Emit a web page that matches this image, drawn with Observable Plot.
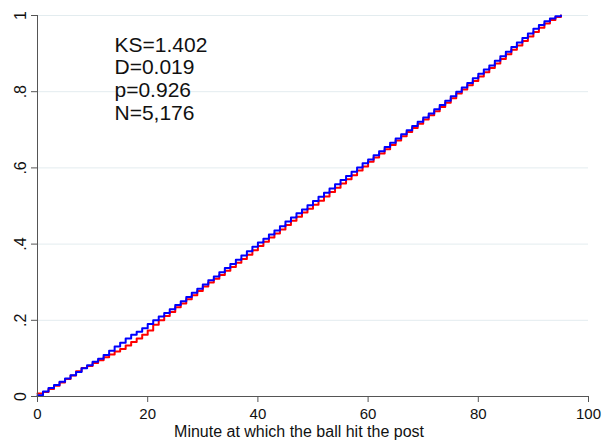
<!DOCTYPE html>
<html><head><meta charset="utf-8">
<script src="https://cdn.jsdelivr.net/npm/d3@7"></script>
<script src="https://cdn.jsdelivr.net/npm/@observablehq/plot@0.6"></script>
<style>body{margin:0;background:#fff} svg{display:block}</style>
</head><body><div id="chart"></div>
<script>
const minutes = [0,1,2,3,4,5,6,7,8,9,10,11,12,13,14,15,16,17,18,19,20,21,22,23,24,25,26,27,28,29,30,31,32,33,34,35,36,37,38,39,40,41,42,43,44,45,46,47,48,49,50,51,52,53,54,55,56,57,58,59,60,61,62,63,64,65,66,67,68,69,70,71,72,73,74,75,76,77,78,79,80,81,82,83,84,85,86,87,88,89,90,91,92,93,94,95];
const blueCdf = [0.003,0.013,0.022,0.030,0.039,0.047,0.056,0.064,0.074,0.082,0.091,0.099,0.109,0.120,0.131,0.141,0.152,0.162,0.170,0.179,0.190,0.200,0.210,0.219,0.229,0.240,0.250,0.261,0.272,0.283,0.294,0.305,0.315,0.326,0.337,0.348,0.359,0.370,0.381,0.393,0.404,0.414,0.425,0.436,0.447,0.459,0.470,0.481,0.491,0.502,0.513,0.524,0.535,0.546,0.557,0.568,0.579,0.590,0.601,0.612,0.622,0.633,0.644,0.655,0.666,0.677,0.688,0.699,0.710,0.721,0.732,0.743,0.754,0.765,0.776,0.788,0.800,0.811,0.823,0.835,0.847,0.858,0.869,0.881,0.893,0.905,0.917,0.929,0.941,0.953,0.965,0.975,0.985,0.992,0.998,1.000];
const redCdf = [0.008,0.012,0.020,0.028,0.037,0.046,0.055,0.066,0.075,0.080,0.088,0.095,0.103,0.110,0.118,0.125,0.134,0.143,0.152,0.162,0.173,0.188,0.200,0.211,0.222,0.234,0.244,0.255,0.266,0.277,0.289,0.299,0.309,0.319,0.330,0.340,0.351,0.361,0.372,0.384,0.395,0.406,0.417,0.428,0.438,0.450,0.461,0.472,0.483,0.493,0.503,0.514,0.525,0.537,0.548,0.559,0.570,0.581,0.593,0.604,0.616,0.627,0.638,0.649,0.660,0.672,0.683,0.694,0.705,0.716,0.727,0.738,0.749,0.760,0.771,0.783,0.795,0.806,0.817,0.828,0.840,0.851,0.862,0.874,0.886,0.898,0.910,0.921,0.933,0.945,0.957,0.968,0.979,0.988,0.996,1.000];
const xTicks = [0,20,40,60,80,100];
const yTicks = [0,0.2,0.4,0.6,0.8,1];
const yTickLabels = ["0",".2",".4",".6",".8","1"];
const xLabel = "Minute at which the ball hit the post";
const stats = ["KS=1.402","D=0.019","p=0.926","N=5,176"];

const red = minutes.map((m,i)=>({minute:m, cdf:redCdf[i]}));
const blue = minutes.map((m,i)=>({minute:m, cdf:blueCdf[i]}));

const chart = Plot.plot({
  width: 605, height: 443,
  marginLeft: 37, marginRight: 17, marginTop: 15, marginBottom: 47,
  x: {domain: [0, 100]},
  y: {domain: [0, 1]},
  style: {fontFamily: "'Liberation Sans', Arial, sans-serif", background: "white", color: "#111"},
  marks: [
    Plot.gridY(yTicks.slice(1), {stroke: "#e3ecef", strokeOpacity: 1}),
    Plot.line(red, {x: "minute", y: "cdf", curve: "step-after", stroke: "#ff0000", strokeWidth: 2}),
    Plot.line(blue, {x: "minute", y: "cdf", curve: "step-after", stroke: "#0000ff", strokeWidth: 2}),
    Plot.ruleX([0], {stroke: "#555"}),
    Plot.ruleY([0], {stroke: "#555"}),
    Plot.axisY(yTicks, {tickRotate: -90, tickFormat: d => yTickLabels[yTicks.indexOf(d)], tickSize: 6, tickPadding: 6, fontSize: 16, label: null, stroke: "#555"}),
    Plot.axisX(xTicks, {tickSize: 6, tickPadding: 6, fontSize: 15, label: null, stroke: "#555"}),
    Plot.text([xLabel], {frameAnchor: "bottom", dy: 40, dx: -14, lineAnchor: "bottom", fontSize: 16, text: d => d}),
    Plot.text([stats.join("\n")], {frameAnchor: "top-left", dx: 77, dy: 20, lineAnchor: "top", textAnchor: "start", fontSize: 21, lineHeight: 1.08, text: d => d})
  ]
});
document.getElementById("chart").appendChild(chart);
</script>
</body></html>
